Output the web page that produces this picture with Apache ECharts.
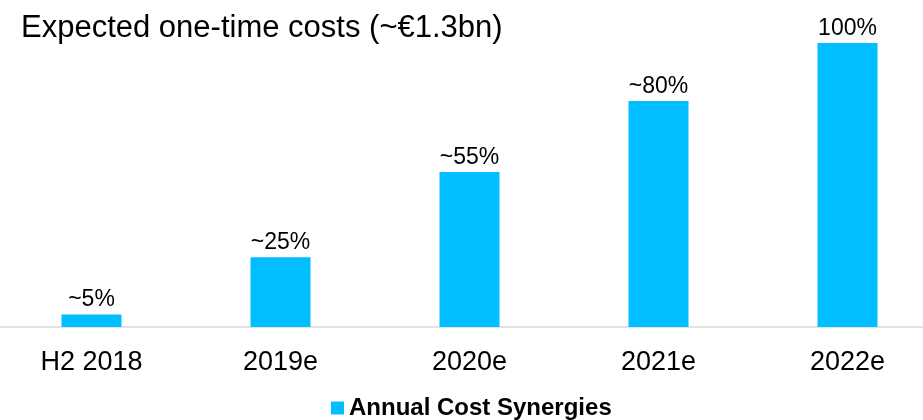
<!DOCTYPE html>
<html>
<head>
<meta charset="utf-8">
<script src="https://cdn.jsdelivr.net/npm/echarts@6/dist/echarts.min.js"></script>
<style>
  html, body { margin: 0; padding: 0; background: #fff; }
  #main { width: 923px; height: 420px; }
</style>
</head>
<body>
<div id="main"></div>
<script>
// categories and values
const categories = ['H2 2018', '2019e', '2020e', '2021e', '2022e'];
const synergyValues = [4.4, 24.6, 54.6, 79.6, 100];
const barLabels = ['~5%', '~25%', '~55%', '~80%', '100%'];
const titleText = 'Expected one-time costs (~\u20ac1.3bn)';
const seriesName = 'Annual Cost Synergies';

const font = "'Liberation Sans', Arial, sans-serif";
const myChart = echarts.init(document.getElementById('main'));

const option = {
  animation: false,
  textStyle: { fontFamily: font },
  title: {
    text: titleText,
    left: 16,
    top: 8,
    textStyle: {
      fontFamily: font,
      fontSize: 31,
      fontWeight: 'normal',
      color: '#000',
    },
  },
  legend: {
    left: 326,
    top: 391,
    itemWidth: 13,
    itemHeight: 13,
    icon: 'rect',
    textStyle: {
      fontFamily: font,
      fontSize: 24,
      fontWeight: 'bold',
      color: '#000',
    },
    data: [seriesName],
  },
  grid: {
    left: -3,
    right: -19,
    top: 43,
    bottom: 93,
    outerBoundsMode: 'none',
  },
  xAxis: {
    type: 'category',
    data: categories,
    axisLine: { lineStyle: { color: '#d9d9d9', width: 1.5 } },
    axisTick: { show: false },
    axisLabel: {
      margin: 22,
      fontFamily: font,
      fontSize: 27,
      color: '#000',
    },
  },
  yAxis: {
    type: 'value',
    min: 0,
    max: 100,
    show: false,
    splitLine: { show: false },
  },
  series: [
    {
      name: seriesName,
      type: 'bar',
      barWidth: 60,
      data: synergyValues,
      itemStyle: { color: '#00BEFF' },
      label: {
        show: true,
        position: 'top',
        distance: 3,
        fontFamily: font,
        fontSize: 23,
        color: '#000',
        formatter: (p) => barLabels[p.dataIndex],
      },
    },
  ],
};

myChart.setOption(option);
</script>
</body>
</html>
